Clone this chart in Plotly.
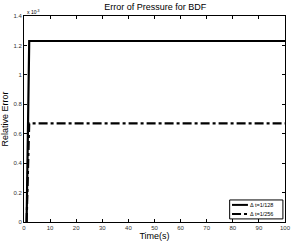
import plotly.graph_objects as go

# Data (relative error in units of 1e-3)
t_128 = [1, 2, 100]
err_128 = [0, 1.23, 1.23]
t_256 = [1, 2, 100]
err_256 = [0, 0.67, 0.67]

x_ticks = [0, 10, 20, 30, 40, 50, 60, 70, 80, 90, 100]
y_ticks = [0, 0.2, 0.4, 0.6, 0.8, 1, 1.2, 1.4]
y_tick_labels = ["0", "0.2", "0.4", "0.6", "0.8", "1", "1.2", "1.4"]
legend_names = ["\u0394 t=1/128", "\u0394 t=1/256"]
legend_dashes = ["solid", "dashdot"]

fig = go.Figure()
fig.add_trace(go.Scatter(x=t_128, y=err_128, mode="lines", name=legend_names[0],
                         line=dict(color="black", width=2.2, dash=legend_dashes[0])))
fig.add_trace(go.Scatter(x=t_256, y=err_256, mode="lines", name=legend_names[1],
                         line=dict(color="black", width=2.2, dash=legend_dashes[1])))

axis_common = dict(showgrid=False, zeroline=False, showline=True, linecolor="black",
                   linewidth=1, mirror="ticks", ticks="inside", ticklen=3,
                   tickcolor="black", tickfont=dict(size=6, color="#333"),
                   automargin=False)

fig.update_layout(
    width=293, height=242,
    margin=dict(l=24, r=8, t=16, b=20),
    paper_bgcolor="white", plot_bgcolor="white",
    font=dict(family="Liberation Sans, Arial, sans-serif", color="black"),
    title=dict(text="Error of Pressure for BDF", x=0.53, xanchor="center",
               y=0.985, yanchor="top", font=dict(size=9)),
    xaxis=dict(range=[0, 100], tickvals=x_ticks,
               title=dict(text="Time(s)", font=dict(size=9), standoff=1), **axis_common),
    yaxis=dict(range=[0, 1.4], tickvals=y_ticks, ticktext=y_tick_labels,
               title=dict(text="Relative Error", font=dict(size=9), standoff=3), **axis_common),
    showlegend=False,
)
fig.add_annotation(text="x 10<sup>-3</sup>", xref="paper", yref="paper", x=0.0, y=1.0,
                   xanchor="left", yanchor="bottom", showarrow=False,
                   font=dict(size=5), yshift=-1, xshift=1)

# Manual compact legend (MATLAB style)
lx0, lx1, ly0, ly1 = 0.788, 0.992, 0.015, 0.107
fig.add_shape(type="rect", xref="paper", yref="paper", x0=lx0, x1=lx1, y0=ly0, y1=ly1,
              line=dict(color="black", width=1), fillcolor="white", layer="above")
row_y = [0.083, 0.039]
for name, dash, yy in zip(legend_names, legend_dashes, row_y):
    fig.add_shape(type="line", xref="paper", yref="paper", x0=0.797, x1=0.858, y0=yy, y1=yy,
                  line=dict(color="black", width=2, dash=dash), layer="above")
    fig.add_annotation(text=name, xref="paper", yref="paper", x=0.862, y=yy,
                       xanchor="left", yanchor="middle", showarrow=False,
                       font=dict(size=5.5), borderpad=0)

fig.write_html("out.html", config={"displayModeBar": False},
               post_script="document.body.style.margin='0';document.body.style.overflow='hidden';")
